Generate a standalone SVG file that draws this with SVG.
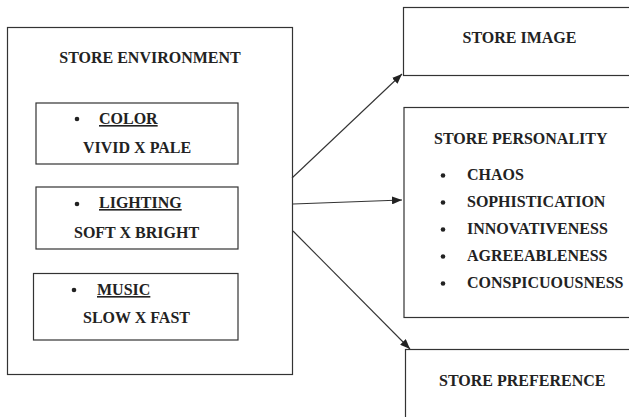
<svg xmlns="http://www.w3.org/2000/svg" width="629" height="417" viewBox="0 0 629 417">
<style>
.box{fill:#fff;stroke:#333;stroke-width:1.2}
.t{font-family:"Liberation Serif","Times New Roman",serif;font-weight:bold;font-size:16px;fill:#222}
.u{text-decoration:underline}
.dot{fill:#222}
.edge{stroke:#333;stroke-width:1.1;fill:none}
</style>
<defs>
<marker id="ah" viewBox="0 0 10 8" refX="10" refY="4" markerWidth="10" markerHeight="8" markerUnits="userSpaceOnUse" orient="auto">
<path d="M0,0 L10,4 L0,8 z" fill="#222"/>
</marker>
</defs>
<rect width="629" height="417" fill="#fff"/>
<g id="store-environment">
<rect class="box" x="7.5" y="27.5" width="285" height="347"/>
<text class="t" x="150" y="63" text-anchor="middle">STORE ENVIRONMENT</text>
</g>
<g id="color">
<rect class="box" x="36" y="103" width="202" height="61"/>
<circle class="dot" cx="77" cy="119" r="2.3"/>
<text class="t u" x="99" y="124">COLOR</text>
<text class="t" x="83" y="153">VIVID X PALE</text>
</g>
<g id="lighting">
<rect class="box" x="36" y="187" width="202" height="62"/>
<circle class="dot" cx="77" cy="204" r="2.3"/>
<text class="t u" x="99" y="208">LIGHTING</text>
<text class="t" x="74" y="238">SOFT X BRIGHT</text>
</g>
<g id="music">
<rect class="box" x="33.5" y="273.5" width="204.5" height="66.5"/>
<circle class="dot" cx="74" cy="290" r="2.3"/>
<text class="t u" x="97" y="295">MUSIC</text>
<text class="t" x="83" y="323">SLOW X FAST</text>
</g>
<g id="store-image">
<rect class="box" x="403.5" y="7.5" width="240" height="68"/>
<text class="t" x="519.5" y="43" text-anchor="middle">STORE IMAGE</text>
</g>
<g id="store-personality">
<rect class="box" x="404" y="107.5" width="240" height="210"/>
<text class="t" x="434" y="144">STORE PERSONALITY</text>
<circle class="dot" cx="443" cy="175.5" r="2.3"/>
<text class="t" x="467" y="180">CHAOS</text>
<circle class="dot" cx="443" cy="202.5" r="2.3"/>
<text class="t" x="467" y="207">SOPHISTICATION</text>
<circle class="dot" cx="443" cy="229.5" r="2.3"/>
<text class="t" x="467" y="234">INNOVATIVENESS</text>
<circle class="dot" cx="443" cy="256.5" r="2.3"/>
<text class="t" x="467" y="261">AGREEABLENESS</text>
<circle class="dot" cx="443" cy="283.5" r="2.3"/>
<text class="t" x="467" y="288">CONSPICUOUSNESS</text>
</g>
<g id="store-preference">
<rect class="box" x="405.5" y="349.5" width="240" height="80"/>
<text class="t" x="439" y="386">STORE PREFERENCE</text>
</g>
<g id="connectors">
<line class="edge" x1="292" y1="178" x2="402" y2="74" marker-end="url(#ah)"/>
<line class="edge" x1="293" y1="204" x2="402" y2="200" marker-end="url(#ah)"/>
<line class="edge" x1="293" y1="231" x2="410" y2="349" marker-end="url(#ah)"/>
</g>
</svg>
